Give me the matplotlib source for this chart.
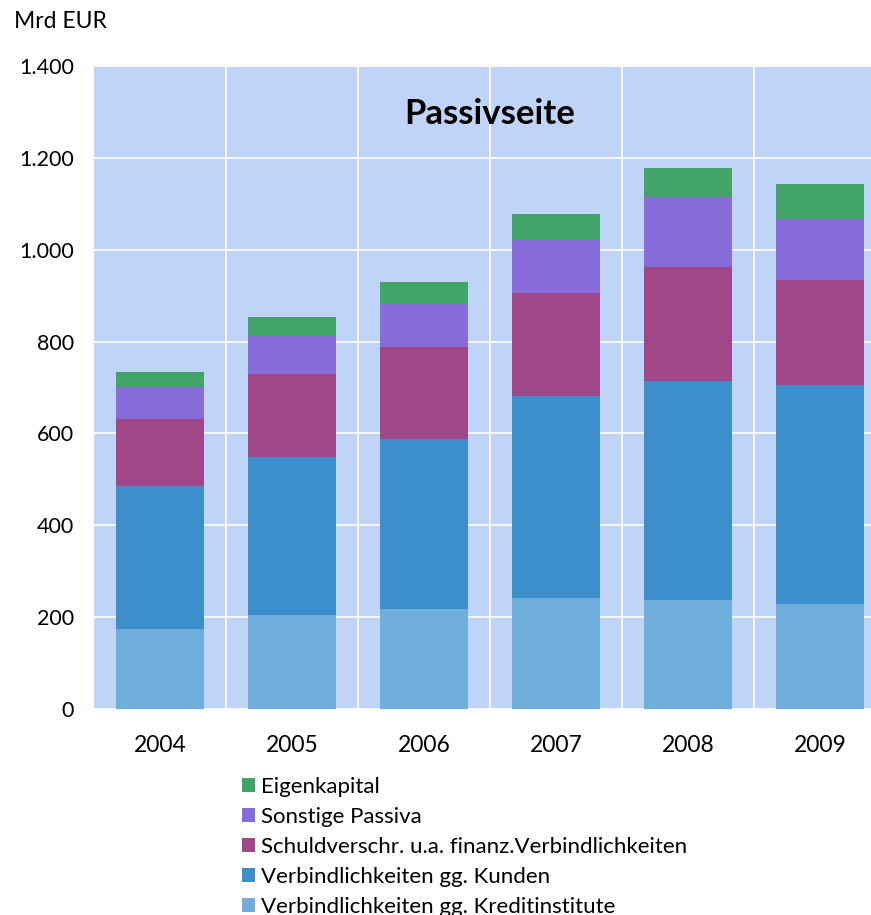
import matplotlib.pyplot as plt
import numpy as np

jahre = ["2004", "2005", "2006", "2007", "2008", "2009"]

# Werte in Mrd EUR
kreditinstitute = [174, 205, 218, 242, 237, 229]
kunden = [311, 344, 370, 439, 477, 476]
schuldverschr = [146, 180, 200, 225, 248, 229]
sonstige = [70, 83, 94, 115, 153, 133]
eigenkapital = [33, 41, 48, 57, 63, 76]

serien = [
    ("Verbindlichkeiten gg. Kreditinstitute", kreditinstitute, "#6FADDA"),
    ("Verbindlichkeiten gg. Kunden", kunden, "#3D8FCB"),
    ("Schuldverschr. u.a. finanz.Verbindlichkeiten", schuldverschr, "#A0478A"),
    ("Sonstige Passiva", sonstige, "#886CD9"),
    ("Eigenkapital", eigenkapital, "#42A368"),
]

plt.rcParams["font.family"] = ["Lato", "DejaVu Sans"]

W, H = 871, 915
fig = plt.figure(figsize=(W / 100, H / 100), dpi=100)
ax = fig.add_axes([94 / W, (H - 709) / H, 792 / W, 643 / H])
ax.set_facecolor("#C0D4F8")

x = np.arange(len(jahre))
unten = np.zeros(len(jahre))
handles = []
for name, werte, farbe in serien:
    b = ax.bar(x, werte, bottom=unten, width=0.667, color=farbe, label=name, zorder=3)
    handles.append(b)
    unten += np.array(werte)

ax.set_xlim(-0.5, 5.5)
ax.set_ylim(0, 1400)
ax.set_yticks(range(0, 1401, 200))
ax.set_yticklabels(["0", "200", "400", "600", "800", "1.000", "1.200", "1.400"])
ax.set_xticks(x)
ax.set_xticklabels(jahre)
ax.set_xticks(x[:-1] + 0.5, minor=True)

ax.grid(True, axis="y", color="white", linewidth=1.2, zorder=1)
ax.grid(True, axis="x", which="minor", color="white", linewidth=1.2, zorder=1)
ax.grid(False, axis="x", which="major")
ax.tick_params(axis="both", which="both", length=0, colors="black")
ax.tick_params(axis="y", pad=14.5, labelsize=15.5)
ax.tick_params(axis="x", pad=19, labelsize=16.5)
for s in ax.spines.values():
    s.set_visible(False)

ax.text(0.5, 0.925, "Passivseite", transform=ax.transAxes, ha="center", va="center",
        fontsize=25, fontweight="bold", zorder=5)
fig.text(14 / W, 1 - 22 / H, "Mrd EUR", ha="left", va="center", fontsize=16.5)

fig.legend(handles[::-1], [s[0] for s in serien][::-1], loc="upper left",
           bbox_to_anchor=(233 / W, 1 - 768 / H), frameon=False, fontsize=16,
           handlelength=0.6, handleheight=0.6, handletextpad=0.25,
           labelspacing=0.45, borderaxespad=0)

fig.savefig("out.png", dpi=100)
